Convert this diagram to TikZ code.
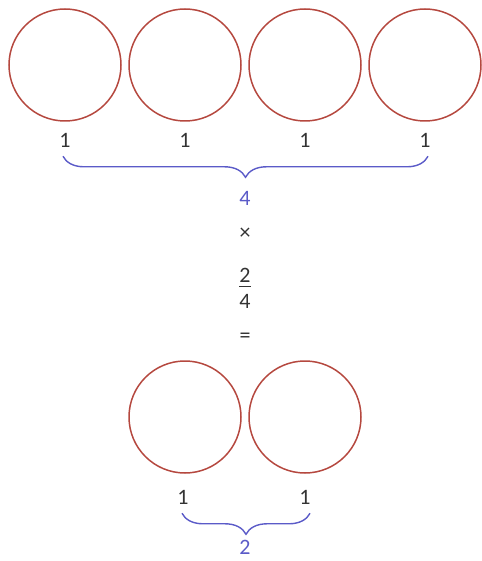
\documentclass[tikz,border=0pt]{standalone}
\usepackage{fontspec}
\setmainfont{Carlito}
\usetikzlibrary{positioning,decorations.pathreplacing}
\definecolor{ringred}{HTML}{B5483F}
\definecolor{braceblue}{HTML}{5B5BC8}
\definecolor{digitgray}{HTML}{333333}

\begin{document}
\begin{tikzpicture}[x=1pt, y=-1pt,
  ring/.style={circle, draw=ringred, line width=1.5pt, minimum size=112pt, inner sep=0pt},
  unit/.style={text=digitgray, font=\fontsize{22}{22}\selectfont, inner sep=1pt},
  total/.style={text=braceblue, font=\fontsize{22}{22}\selectfont, inner sep=1pt},
  brc/.style={draw=braceblue, line width=1.4pt, decorate, decoration={brace, mirror, amplitude=21pt}}]
  \useasboundingbox (0,0) rectangle (481,561);
  % four ones
  \foreach \i/\x in {1/65, 2/185, 3/305, 4/425} {
    \node[ring] (c\i) at (\x, 65) {};
    \node[unit] (u\i) at (\x, 140) {1};
  }
  \draw[brc] ([xshift=-2pt, yshift=-8pt]u1.south) -- ([xshift=3pt, yshift=-8pt]u4.south);
  \node[total] (four) at (245, 198) {4};
  \node[unit] (times) at (245, 234) {×};
  \node[unit] (num) at (245, 275) {2};
  \node[unit] (den) at (245, 301) {4};
  \draw[digitgray, line width=1.2pt] ([xshift=1pt, yshift=-3pt]num.south west) -- ([xshift=-1pt, yshift=-3pt]num.south east);
  \node[unit] (equals) at (245, 338) {=};
  % two ones
  \foreach \i/\x in {1/185, 2/305} {
    \node[ring] (d\i) at (\x, 417) {};
  }
  \node[unit] (v1) at (183, 497) {1};
  \node[unit] (v2) at (305, 497) {1};
  \draw[brc] ([xshift=-1pt, yshift=-8pt]v1.south) -- ([xshift=5pt, yshift=-8pt]v2.south);
  \node[total] (two) at (245, 547) {2};
\end{tikzpicture}
\end{document}
